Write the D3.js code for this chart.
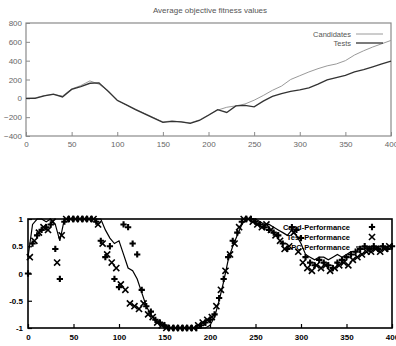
<!DOCTYPE html>
<html>
<head>
<meta charset="utf-8">
<script src="https://cdn.jsdelivr.net/npm/d3@7"></script>
<style>
  html, body { margin: 0; padding: 0; background: #fff; }
  svg { display: block; font-family: "Liberation Sans", Arial, sans-serif; }
</style>
</head>
<body>
<div id="chart"></div>
<script>
// Top chart: average objective fitness values
const fitGen = [0, 10, 20, 30, 40, 50, 60, 70, 80, 90, 100, 110, 120, 130, 140, 150, 160, 170, 180, 190,
  200, 210, 220, 230, 240, 250, 260, 270, 280, 290, 300, 310, 320, 330, 340, 350, 360, 370, 380, 390, 400];
const candidates = [0, 5, 30, 40, 25, 100, 135, 185, 150, 80, -25, -70, -115, -160, -205, -250, -240, -250, -260, -230,
  -175, -125, -95, -80, -60, -20, 30, 85, 130, 200, 240, 280, 315, 345, 365, 400, 460, 505, 545, 580, 615];
const tests = [0, 0, 25, 45, 15, 95, 125, 160, 165, 75, -20, -70, -120, -165, -210, -255, -245, -250, -265, -235,
  -180, -120, -150, -80, -75, -90, -30, 20, 50, 75, 90, 110, 150, 195, 220, 245, 280, 305, 335, 365, 395];
const fitYTicks = [-400, -200, 0, 200, 400, 600, 800];
const genTicks = [0, 50, 100, 150, 200, 250, 300, 350, 400];

// Bottom chart: performance
const candGen = d3.range(0, 401, 5);
const candPerf = [0, 0.55, 0.7, 0.8, 0.85, 0.9, 0.45, -0.1, 0.95, 1, 1, 1, 1, 1, 1, 0.95, 0.6, 0.3, 0.5, -0.1,
  -0.25, 0.9, 0.85, 0.55, 0.35, -0.3, -0.6, -0.7, -0.85, -0.9, -0.95, -1, -1, -1, -1, -1, -1, -1, -0.95, -0.9,
  -0.85, -0.75, -0.45, -0.1, 0.3, 0.6, 0.75, 0.95, 1, 1, 0.95, 0.9, 0.85, 0.8, 0.75, 0.7, 0.55, 0.45, 0.85, 0.8,
  0.65, 0.3, 0.2, 0.15, 0.25, 0.2, 0.15, 0.1, 0.2, 0.25, 0.3, 0.35, 0.4, 0.45, 0.5, 0.45, 0.5, 0.45, 0.5, 0.45, 0.5];
const testGen = d3.range(2, 400, 5);
const testPerf = [0.3, 0.6, 0.75, 0.85, 0.8, 0.95, 0.2, 0.7, 1, 1, 1, 1, 1, 1, 1, 0.9, 0.55, 0.35, 0.2, 0.1,
  -0.2, -0.3, -0.55, -0.6, -0.65, -0.55, -0.75, -0.8, -0.9, -0.95, -1, -1, -1, -1, -1, -1, -1, -0.95, -0.9, -0.85,
  -0.8, -0.6, -0.3, 0.05, 0.35, 0.55, 0.85, 1, 1, 0.95, 0.9, 0.85, 0.9, 0.8, 0.7, 0.6, 0.45, 0.5, 0.75, 0.4,
  0.2, 0.1, 0.05, 0.15, 0.1, 0.15, 0.05, 0.1, 0.15, 0.2, 0.15, 0.25, 0.3, 0.35, 0.4, 0.4, 0.45, 0.4, 0.45, 0.5];
const pcPerf = [0.3, 0.9, 1, 1, 0.95, 1, 0.9, 0.6, 1, 1, 1, 1, 1, 1, 1, 1, 1, 0.8, 0.65, 0.55,
  0.6, 0.35, 0.1, 0.05, -0.1, -0.35, -0.6, -0.75, -0.85, -0.9, -0.95, -1, -1, -1, -1, -1, -1, -1, -1, -1,
  -0.95, -0.8, -0.5, -0.15, 0.25, 0.5, 0.7, 0.9, 1, 1, 1, 0.95, 0.9, 0.9, 0.85, 0.8, 0.75, 0.7, 0.8, 0.7,
  0.55, 0.35, 0.3, 0.25, 0.3, 0.3, 0.25, 0.3, 0.35, 0.3, 0.35, 0.4, 0.4, 0.45, 0.45, 0.5, 0.45, 0.5, 0.5, 0.45, 0.45];
const perfYTicks = [-1, -0.5, 0, 0.5, 1];

const svg = d3.select('#chart').append('svg')
  .attr('width', 396)
  .attr('height', 346);

// ---- top chart ----
const topBox = { left: 26, right: 391, top: 23, bottom: 136 };
const gray = '#8a8a8a';
const x1 = d3.scaleLinear().domain([0, 400]).range([topBox.left, topBox.right]);
const y1 = d3.scaleLinear().domain([-400, 800]).range([topBox.bottom, topBox.top]);

svg.append('text')
  .attr('x', 210).attr('y', 13)
  .attr('text-anchor', 'middle')
  .attr('font-size', 8)
  .attr('fill', '#555')
  .text('Average objective fitness values');

const g1 = svg.append('g');
g1.append('g')
  .attr('transform', `translate(0,${topBox.bottom})`)
  .call(d3.axisBottom(x1).tickValues(genTicks).tickSize(-4).tickPadding(5).tickFormat(d3.format('d')));
g1.append('g')
  .attr('transform', `translate(${topBox.left},0)`)
  .call(d3.axisLeft(y1).tickValues(fitYTicks).tickSize(-4).tickPadding(4).tickFormat(d3.format('d')));
g1.selectAll('.domain').remove();
g1.selectAll('.tick line').attr('stroke', gray);
g1.selectAll('.tick text').attr('fill', '#666').attr('font-size', 8);
g1.append('rect')
  .attr('x', topBox.left).attr('y', topBox.top)
  .attr('width', topBox.right - topBox.left).attr('height', topBox.bottom - topBox.top)
  .attr('fill', 'none').attr('stroke', gray).attr('stroke-width', 1.2);

const line1 = d3.line().x((d, i) => x1(fitGen[i])).y(d => y1(d));
g1.append('path').datum(candidates)
  .attr('d', line1).attr('fill', 'none').attr('stroke', '#9a9a9a').attr('stroke-width', 1);
g1.append('path').datum(tests)
  .attr('d', line1).attr('fill', 'none').attr('stroke', '#333').attr('stroke-width', 1.3);

const leg1 = [['Candidates', '#9a9a9a', 1], ['Tests', '#333', 1.3]];
leg1.forEach((l, i) => {
  const yy = 34 + i * 9;
  g1.append('text').attr('x', 351).attr('y', yy + 2.5)
    .attr('text-anchor', 'end').attr('font-size', 7.5).attr('fill', '#555').text(l[0]);
  g1.append('line').attr('x1', 356).attr('x2', 383).attr('y1', yy).attr('y2', yy)
    .attr('stroke', l[1]).attr('stroke-width', l[2]);
});

// ---- bottom chart ----
const bot = { left: 28, right: 392, top: 219, bottom: 328 };
const x2 = d3.scaleLinear().domain([0, 400]).range([bot.left, bot.right]);
const y2 = d3.scaleLinear().domain([-1, 1]).range([bot.bottom, bot.top]);

const g2 = svg.append('g');
g2.append('g')
  .attr('transform', `translate(0,${bot.bottom})`)
  .call(d3.axisBottom(x2).tickValues(genTicks).tickSize(-4).tickPadding(6).tickFormat(d3.format('d')));
g2.append('g')
  .attr('transform', `translate(${bot.left},0)`)
  .call(d3.axisLeft(y2).tickValues(perfYTicks).tickSize(-4).tickPadding(5).tickFormat(d => d));
g2.selectAll('.domain').remove();
g2.selectAll('.tick line').attr('stroke', '#000').attr('stroke-width', 1.2);
g2.selectAll('.tick text').attr('fill', '#000').attr('font-size', 8).attr('font-weight', 'bold');
g2.append('rect')
  .attr('x', bot.left).attr('y', bot.top)
  .attr('width', bot.right - bot.left).attr('height', bot.bottom - bot.top)
  .attr('fill', 'none').attr('stroke', '#000').attr('stroke-width', 1.6);

const line2 = d3.line().x((d, i) => x2(candGen[i])).y(d => y2(d));
g2.append('path').datum(pcPerf)
  .attr('d', line2).attr('fill', 'none').attr('stroke', '#000').attr('stroke-width', 1.2);

const plus = d3.symbol().type(d3.symbolCross).size(22);
g2.selectAll('.cand').data(candPerf).enter().append('path')
  .attr('transform', (d, i) => `translate(${x2(candGen[i])},${y2(d)})`)
  .attr('d', plus).attr('fill', '#000');
const cross = d3.symbol().type(d3.symbolTimes).size(26);
g2.selectAll('.test').data(testPerf).enter().append('path')
  .attr('transform', (d, i) => `translate(${x2(testGen[i])},${y2(d)})`)
  .attr('d', cross).attr('fill', 'none').attr('stroke', '#000').attr('stroke-width', 1.6);

const leg2 = ['Cand-Performance', 'Test-Performance', 'PC-Performance'];
leg2.forEach((t, i) => {
  const yy = 227 + i * 10;
  g2.append('text').attr('x', 350).attr('y', yy + 3)
    .attr('text-anchor', 'end').attr('font-size', 7.5).attr('font-weight', 'bold').attr('fill', '#000').text(t);
});
g2.append('path').attr('transform', 'translate(372,227)').attr('d', plus).attr('fill', '#000');
g2.append('path').attr('transform', 'translate(372,237)').attr('d', cross)
  .attr('fill', 'none').attr('stroke', '#000').attr('stroke-width', 1.6);
g2.append('line').attr('x1', 356).attr('x2', 388).attr('y1', 247).attr('y2', 247)
  .attr('stroke', '#000').attr('stroke-width', 1.2);
</script>
</body>
</html>
